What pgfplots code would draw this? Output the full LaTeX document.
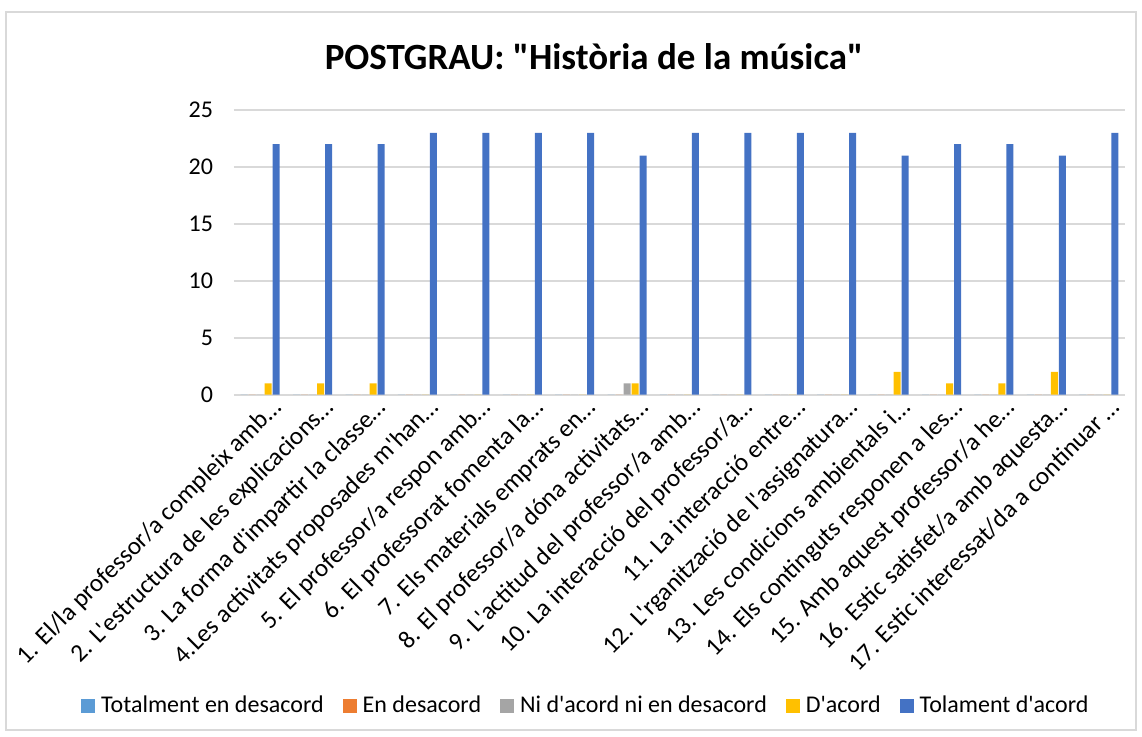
\documentclass[border=0pt]{standalone}
\usepackage{pgfplots}
\pgfplotsset{compat=1.18}
\usepackage{fontspec}
\setmainfont{Carlito}[Ligatures=TeXOff]
\definecolor{sA}{HTML}{5B9BD5}
\definecolor{sB}{HTML}{ED7D31}
\definecolor{sC}{HTML}{A5A5A5}
\definecolor{sD}{HTML}{FFC000}
\definecolor{sE}{HTML}{4472C4}
\definecolor{gridc}{HTML}{D9D9D9}
\begin{document}
\begin{tikzpicture}[x=0.5pt,y=0.5pt]
\path (0,0) rectangle (1142,736);
\draw[gridc, line width=1pt] (6,6) rectangle (1136,724);
\node[font=\fontsize{18.5}{22}\selectfont\bfseries, anchor=base] at (594,667) {POSTGRAU: "Història de la música"};
\begin{axis}[
  at={(117pt,170.65pt)}, anchor=south west,
  scale only axis, width=445.5pt, height=142.35pt,
  ybar=0.5pt, bar width=3.5pt,
  xmin=0.5, xmax=17.5, ymin=0, ymax=25,
  xtick={1,...,17}, ytick={0,5,...,25},
  xticklabels={{1. El/la professor/a compleix amb…},{2. L'estructura de les explicacions…},{3. La forma d'impartir la classe…},{4.Les activitats proposades m'han…},{5. El professor/a respon amb…},{6. El professorat fomenta la…},{7. Els materials emprats en…},{8. El professor/a dóna activitats…},{9. L'actitud del professor/a amb…},{10. La interacció del professor/a…},{11. La interacció entre…},{12. L'rganització de l'assignatura…},{13. Les condicions ambientals i…},{14. Els continguts responen a les…},{15. Amb aquest professor/a he…},{16. Estic satisfet/a amb aquesta…},{17. Estic interessat/da a continuar …}},
  xticklabel style={rotate=45, anchor=north east, font=\fontsize{12.6}{14}\selectfont, inner sep=1pt, xshift=4pt, yshift=-3pt},
  yticklabel style={font=\fontsize{12}{14}\selectfont, xshift=-7pt},
  /pgf/number format/assume math mode=true,
  axis line style={draw=none},
  major tick length=0pt,
  ymajorgrids, grid style={gridc, line width=0.8pt},
  legend columns=5,
  legend style={at={(0.396,-1.093)}, anchor=center, draw=none, font=\fontsize{12}{14}\selectfont, column sep=1pt, /tikz/every even column/.append style={column sep=7.5pt}},
  legend image code/.code={\fill[#1] (0pt,-3.5pt) rectangle (7pt,3.5pt);},
]
\addplot[fill=sA, draw=none] coordinates {(1,0)(2,0)(3,0)(4,0)(5,0)(6,0)(7,0)(8,0)(9,0)(10,0)(11,0)(12,0)(13,0)(14,0)(15,0)(16,0)(17,0)};
\addplot[fill=sB, draw=none] coordinates {(1,0)(2,0)(3,0)(4,0)(5,0)(6,0)(7,0)(8,0)(9,0)(10,0)(11,0)(12,0)(13,0)(14,0)(15,0)(16,0)(17,0)};
\addplot[fill=sC, draw=none] coordinates {(1,0)(2,0)(3,0)(4,0)(5,0)(6,0)(7,0)(8,1)(9,0)(10,0)(11,0)(12,0)(13,0)(14,0)(15,0)(16,0)(17,0)};
\addplot[fill=sD, draw=none] coordinates {(1,1)(2,1)(3,1)(4,0)(5,0)(6,0)(7,0)(8,1)(9,0)(10,0)(11,0)(12,0)(13,2)(14,1)(15,1)(16,2)(17,0)};
\addplot[fill=sE, draw=none] coordinates {(1,22)(2,22)(3,22)(4,23)(5,23)(6,23)(7,23)(8,21)(9,23)(10,23)(11,23)(12,23)(13,21)(14,22)(15,22)(16,21)(17,23)};
\legend{Totalment en desacord, En desacord, Ni d'acord ni en desacord, D'acord, Tolament d'acord}
\end{axis}
\end{tikzpicture}
\end{document}
